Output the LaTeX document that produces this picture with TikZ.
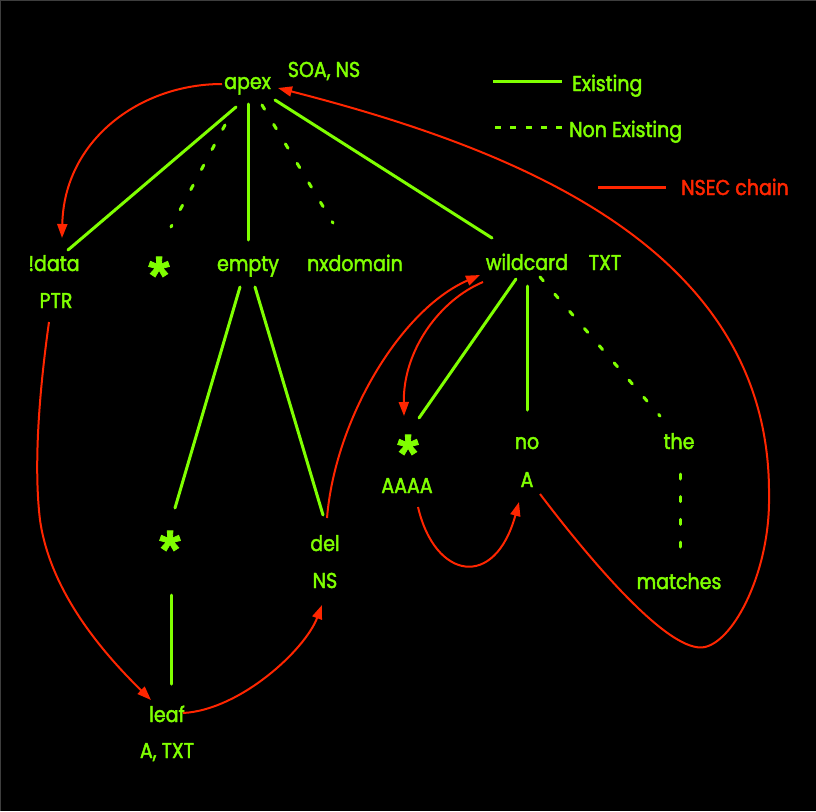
\documentclass[tikz,border=0pt]{standalone}
\usepackage{fontspec}
\setmainfont{Poppins}
\newfontfamily\lblfont{Poppins}[FakeBold=2,FakeStretch=0.885]
\newfontfamily\starfont{Liberation Sans}[FakeBold=1.5]
\usetikzlibrary{arrows.meta}
\definecolor{lime}{RGB}{128,255,0}
\definecolor{nsec}{RGB}{255,38,0}
\definecolor{rim}{RGB}{62,62,62}
\begin{document}
\begin{tikzpicture}[x=1pt,y=-1pt,
  lbl/.style={text=lime, font=\lblfont\fontsize{21.5}{23}\selectfont, inner sep=0pt, anchor=base},
  star/.style={text=lime, font=\starfont\fontsize{54}{56}\selectfont\bfseries, inner sep=0pt, anchor=base},
  tree/.style={draw=lime, line width=3pt, line cap=round},
  ghost/.style={tree, dash pattern=on 5pt off 17.7pt},
  chain/.style={draw=nsec, line width=2pt, -{Triangle[length=14pt,width=10pt]}}]
\fill[black] (0,0) rectangle (816,811);
\useasboundingbox (0,0) rectangle (816,811);
\draw[rim, line width=1.2pt] (0,0.6) -- (816,0.6);
\draw[rim, line width=1.2pt] (0.6,0) -- (0.6,811);

% nodes
\node[lbl] (apex) at (247.5,89) {apex};
\node[lbl] (soa) at (324,77) {SOA, NS};
\node[lbl] (ndata) at (54,271) {!data};
\node[lbl] (ptr) at (56,308) {PTR};
\node[star] (wa) at (159,294) {*};
\node[lbl] (empty) at (248,271) {empty};
\node[lbl] (nx) at (355,271) {nxdomain};
\node[lbl] (wild) at (527,270) {wildcard};
\node[lbl] (txt) at (605,270) {TXT};
\node[star] (wb) at (170,568) {*};
\node[lbl] (del) at (325,551) {del};
\node[lbl] (ns) at (325,588) {NS};
\node[lbl] (leaf) at (167,722) {leaf};
\node[lbl] (atxt) at (167,758) {A, TXT};
\node[star] (wc) at (408,472) {*};
\node[lbl] (aaaa) at (407,493) {AAAA};
\node[lbl] (no) at (527,449) {no};
\node[lbl] (a) at (527,487) {A};
\node[lbl] (the) at (679,449) {the};
\node[lbl] (matches) at (679,589) {matches};

% legend
\node[lbl, anchor=base west] (lex) at (572,91) {Existing};
\node[lbl, anchor=base west] (lnx) at (569,137) {Non Existing};
\node[lbl, anchor=base west, text=nsec] (lns) at (681,195) {NSEC chain};
\coordinate (lexA) at (493,81); \coordinate (lexB) at (562,81);
\coordinate (lnxA) at (495,127); \coordinate (lnxB) at (562,127);
\coordinate (lnsA) at (598,187); \coordinate (lnsB) at (666,187);
\draw[tree, line cap=butt] (lexA) -- (lexB);
\draw[tree, line cap=butt, dash pattern=on 6pt off 9.3pt] (lnxA) -- (lnxB);
\draw[draw=nsec, line width=3pt] (lnsA) -- (lnsB);

% tree edges
\coordinate (apexA) at (236,107); \coordinate (ndataT) at (68,250);
\coordinate (apexB) at (225,125); \coordinate (waT) at (171,227);
\coordinate (apexC) at (248,104); \coordinate (emptyT) at (248,240);
\coordinate (apexD) at (262,105); \coordinate (nxT) at (333,223);
\coordinate (apexE) at (275,100); \coordinate (wildT) at (492,238);
\coordinate (emptyL) at (240,287); \coordinate (wbT) at (175,508);
\coordinate (emptyR) at (255,287); \coordinate (delT) at (323,515);
\coordinate (wbB) at (171,595); \coordinate (leafT) at (171,684);
\coordinate (wildA) at (516,279); \coordinate (wcT) at (419,418);
\coordinate (wildB) at (527,286); \coordinate (noT) at (527,410);
\coordinate (wildC) at (540,277); \coordinate (theT) at (660,416);
\coordinate (theB) at (680,474); \coordinate (matchesT) at (680,547);
\draw[tree] (apexA) -- (ndataT);
\draw[ghost] (apexB) -- (waT);
\draw[tree] (apexC) -- (emptyT);
\draw[ghost] (apexD) -- (nxT);
\draw[tree] (apexE) -- (wildT);
\draw[tree] (emptyL) -- (wbT);
\draw[tree] (emptyR) -- (delT);
\draw[tree] (wbB) -- (leafT);
\draw[tree] (wildA) -- (wcT);
\draw[tree] (wildB) -- (noT);
\draw[ghost] (wildC) -- (theT);
\draw[ghost] (theB) -- (matchesT);

% NSEC chain
\coordinate (c1s) at (222,84); \coordinate (c1e) at (62,238);
\coordinate (c2s) at (49,322); \coordinate (c2e) at (151,700);
\coordinate (c3s) at (183,713); \coordinate (c3e) at (322,605);
\coordinate (c4s) at (327,518); \coordinate (c4e) at (480,275);
\coordinate (c5s) at (483,282); \coordinate (c5e) at (404,416);
\coordinate (c6s) at (418,507); \coordinate (c6e) at (519,502);
\coordinate (c7s) at (540,494); \coordinate (c7e) at (278,88);
\draw[chain] (c1s) .. controls (140,84) and (64,140) .. (c1e);
\draw[chain] (c2s) .. controls (38,400) and (34,470) .. (40,520) .. controls (50,590) and (100,650) .. (c2e);
\draw[chain] (c3s) .. controls (240,710) and (305,650) .. (c3e);
\draw[chain] (c4s) .. controls (335,420) and (400,310) .. (c4e);
\draw[chain] (c5s) .. controls (440,300) and (403,350) .. (c5e);
\draw[chain] (c6s) .. controls (435,580) and (495,590) .. (c6e);
\draw[chain] (c7s) .. controls (590,560) and (670,655) .. (705,647) .. controls (735,640) and (770,570) .. (769,497) .. controls (772,250) and (520,150) .. (c7e);
\end{tikzpicture}
\end{document}
